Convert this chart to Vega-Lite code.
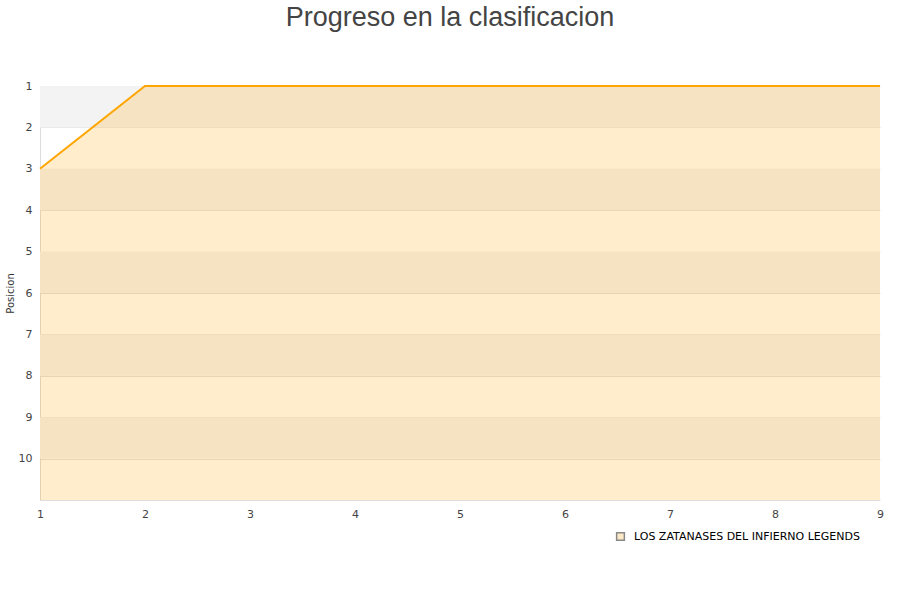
{
  "$schema": "https://vega.github.io/schema/vega-lite/v6.json",
  "width": 840,
  "height": 414,
  "autosize": "none",
  "padding": {"left": 40, "top": 86, "right": 20, "bottom": 100},
  "background": "white",
  "title": {
    "text": "Progreso en la clasificacion",
    "font": "Liberation Sans",
    "fontSize": 27,
    "fontWeight": "normal",
    "color": "#444444",
    "anchor": "middle",
    "frame": "group",
    "dx": -10,
    "offset": 48
  },
  "config": {
    "view": {"stroke": null},
    "axis": {
      "labelFont": "DejaVu Sans",
      "labelFontSize": 11,
      "labelColor": "#444444",
      "ticks": false,
      "domainColor": "#dddddd",
      "gridColor": "#e0e0e0",
      "titleFont": "DejaVu Sans",
      "titleFontWeight": "normal"
    }
  },
  "datasets": {
    "bands": [
      {"b": 1, "e": 2},
      {"b": 3, "e": 4},
      {"b": 5, "e": 6},
      {"b": 7, "e": 8},
      {"b": 9, "e": 10}
    ],
    "prog": [
      {"jornada": 1, "posicion": 3, "equipo": "LOS ZATANASES DEL INFIERNO LEGENDS"},
      {"jornada": 2, "posicion": 1, "equipo": "LOS ZATANASES DEL INFIERNO LEGENDS"},
      {"jornada": 3, "posicion": 1, "equipo": "LOS ZATANASES DEL INFIERNO LEGENDS"},
      {"jornada": 4, "posicion": 1, "equipo": "LOS ZATANASES DEL INFIERNO LEGENDS"},
      {"jornada": 5, "posicion": 1, "equipo": "LOS ZATANASES DEL INFIERNO LEGENDS"},
      {"jornada": 6, "posicion": 1, "equipo": "LOS ZATANASES DEL INFIERNO LEGENDS"},
      {"jornada": 7, "posicion": 1, "equipo": "LOS ZATANASES DEL INFIERNO LEGENDS"},
      {"jornada": 8, "posicion": 1, "equipo": "LOS ZATANASES DEL INFIERNO LEGENDS"},
      {"jornada": 9, "posicion": 1, "equipo": "LOS ZATANASES DEL INFIERNO LEGENDS"}
    ]
  },
  "layer": [
    {
      "data": {"name": "bands"},
      "mark": {"type": "rect", "color": "#f3f3f3"},
      "encoding": {
        "y": {
          "field": "b", "type": "quantitative",
          "scale": {"domain": [1, 11], "reverse": true, "nice": false, "zero": false},
          "axis": {
            "values": [1, 2, 3, 4, 5, 6, 7, 8, 9, 10],
            "title": "Posicion",
            "titleFontSize": 10,
            "titleColor": "#333333",
            "titlePadding": 3,
            "labelPadding": 8,
            "labelFlush": false,
            "grid": true
          }
        },
        "y2": {"field": "e"}
      }
    },
    {
      "data": {"name": "prog"},
      "mark": {"type": "area", "color": "#ffa500", "opacity": 0.2},
      "encoding": {
        "x": {
          "field": "jornada", "type": "quantitative",
          "scale": {"domain": [1, 9], "nice": false, "zero": false},
          "axis": {
            "values": [1, 2, 3, 4, 5, 6, 7, 8, 9],
            "format": "d",
            "title": null,
            "labelPadding": 8,
            "labelFlush": false,
            "labelBound": false,
            "grid": false
          }
        },
        "y": {"field": "posicion", "type": "quantitative"},
        "y2": {"datum": 11}
      }
    },
    {
      "data": {"name": "prog"},
      "mark": {"type": "line", "color": "#ffa500", "strokeWidth": 2},
      "encoding": {
        "x": {"field": "jornada", "type": "quantitative"},
        "y": {"field": "posicion", "type": "quantitative"}
      }
    },
    {
      "data": {"name": "prog"},
      "mark": {"type": "point", "shape": "square", "filled": true, "stroke": "#888888", "strokeWidth": 1, "size": 0, "opacity": 1},
      "encoding": {
        "x": {"field": "jornada", "type": "quantitative"},
        "y": {"field": "posicion", "type": "quantitative"},
        "fill": {
          "field": "equipo", "type": "nominal",
          "scale": {"range": ["#fde9c6"]},
          "legend": {
            "orient": "none",
            "legendX": 575,
            "legendY": 445,
            "title": null,
            "symbolType": "square",
            "symbolSize": 60,
            "symbolOpacity": 1,
            "labelFont": "DejaVu Sans",
            "labelFontSize": 11,
            "labelColor": "#000000",
            "labelOffset": 8,
            "labelLimit": 0
          }
        }
      }
    }
  ]
}
